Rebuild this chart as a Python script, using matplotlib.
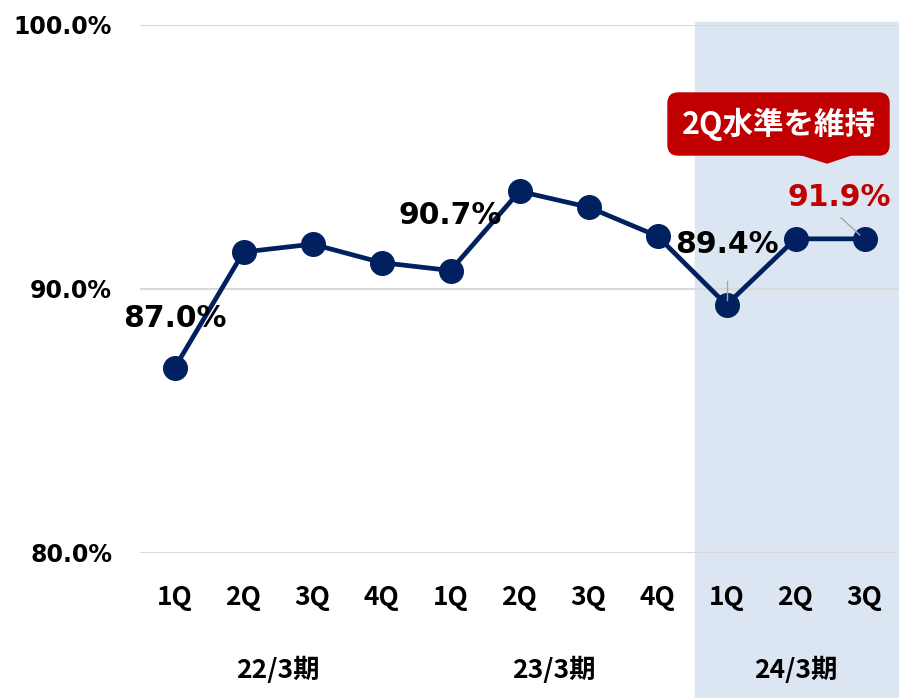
import numpy as np
import matplotlib.pyplot as plt
from matplotlib.patches import Rectangle, FancyBboxPatch, Polygon

plt.rcParams['font.family'] = ['DejaVu Sans', 'Noto Sans CJK JP']

quarters = ['1Q', '2Q', '3Q', '4Q', '1Q', '2Q', '3Q', '4Q', '1Q', '2Q', '3Q']
values = [87.0, 91.4, 91.7, 91.0, 90.7, 93.7, 93.1, 92.0, 89.4, 91.9, 91.9]
periods = ['22/3期', '23/3期', '24/3期']
period_centers = [1.5, 5.5, 9.0]
y_ticks = [80, 90, 100]

navy = '#002060'
red = '#C00000'
jp = ['Noto Sans CJK JP', 'DejaVu Sans']

fig = plt.figure(figsize=(8.99, 6.98), dpi=100)
ax = fig.add_axes([140/899, 1-553/698, 759/899, 528/698])
ax.set_facecolor('none')

# shaded band for 24/3期
fig.patches.append(Rectangle((695/899, 0), 1-695/899, (698-22)/698,
                             transform=fig.transFigure, color='#DCE6F2', zorder=-1))

x = np.arange(len(values))
ax.plot(x, values, color=navy, lw=3.4, marker='o', ms=17, zorder=3, clip_on=False)

ax.set_xlim(-0.5, 10.5)
ax.set_ylim(80, 100)
ax.set_yticks(y_ticks)
ax.set_yticklabels([f'{v:.1f}%' for v in y_ticks], fontsize=17, fontweight='bold',
                   family='DejaVu Sans')
ax.yaxis.grid(True, color='#D9D9D9', lw=1.5)
ax.set_axisbelow(True)
ax.set_xticks(x)
ax.set_xticklabels(quarters, fontsize=19, fontweight='bold', family=jp)
ax.tick_params(axis='both', length=0)
ax.tick_params(axis='x', pad=22)
ax.tick_params(axis='y', pad=20)
for s in ax.spines.values():
    s.set_visible(False)

for c, p in zip(period_centers, periods):
    ax.text(c, -0.222, p, transform=ax.get_xaxis_transform(), ha='center', va='center',
            fontsize=19, fontweight='bold', family=jp)

# data labels
lab = dict(fontsize=21.5, fontweight='bold', ha='center', va='center', family='DejaVu Sans')
ax.text(0, 88.9, f'{values[0]:.1f}%', **lab)
ax.text(4, 92.77, f'{values[4]:.1f}%', **lab)
ax.text(8, 91.7, f'{values[8]:.1f}%', **lab)
ax.text(9.64, 93.48, f'{values[10]:.1f}%', color=red, **lab)
ax.plot([8, 8], [90.3, 89.6], color='#A6A6A6', lw=1, zorder=4)
ax.plot([9.66, 9.93], [92.7, 92.05], color='#A6A6A6', lw=1, zorder=4)

# callout
box = FancyBboxPatch((6.68, 5.43), 2.21, 0.62, boxstyle='round,pad=0,rounding_size=0.1',
                     transform=fig.dpi_scale_trans, color=red, zorder=5)
fig.patches.append(box)
tri = Polygon([(7.99, 5.44), (8.54, 5.44), (8.27, 5.35)], closed=True,
              transform=fig.dpi_scale_trans, color=red, zorder=5)
fig.patches.append(tri)
fig.text(7.785/8.99, 5.74/6.98, '2Q水準を維持', color='white', fontsize=22, fontweight='bold',
         ha='center', va='center', family=jp, zorder=6)

fig.savefig('out.png', dpi=100)
